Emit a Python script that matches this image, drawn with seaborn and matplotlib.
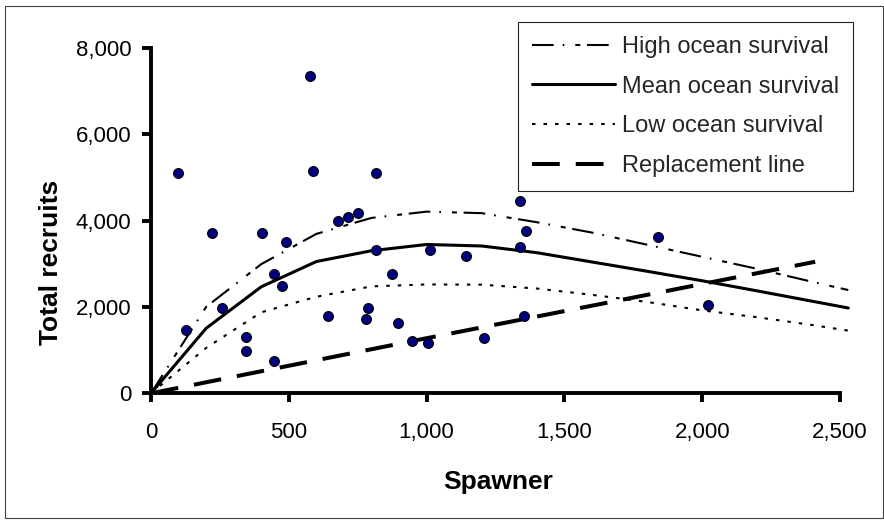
import matplotlib
matplotlib.use("Agg")
import matplotlib.pyplot as plt
import seaborn as sns
from matplotlib.patches import Rectangle

# ---------------- data ----------------
spawner = [97, 128, 221, 258, 344, 344, 403, 445, 445, 475, 491, 578, 588,
           643, 680, 716, 752, 780, 788, 816, 816, 876, 895, 947, 1004, 1012,
           1143, 1208, 1339, 1339, 1353, 1361, 1838, 2020]
recruits = [5110, 1467, 3705, 1974, 1310, 975, 3705, 2769, 741, 2480, 3509,
            7345, 5150, 1778, 3977, 4079, 4173, 1731, 1974, 3322, 5110, 2769,
            1637, 1216, 1170, 3322, 3181, 1272, 4444, 3378, 1794, 3752, 3611,
            2051]

curve_spawner = [0, 200, 400, 600, 800, 1000, 1200, 1400, 1600, 1800, 2000,
                 2200, 2400, 2530]
high_survival = [0, 2000, 2990, 3690, 4060, 4205, 4170, 3960, 3720, 3440,
                 3160, 2880, 2580, 2390]
mean_survival = [0, 1505, 2465, 3050, 3300, 3445, 3410, 3255, 3040, 2825,
                 2605, 2370, 2130, 1975]
low_survival = [0, 1050, 1875, 2235, 2475, 2520, 2515, 2425, 2280, 2115,
                1920, 1760, 1580, 1450]

replacement_spawner = [0, 1000, 2000, 2410]
replacement_recruits = [0, 1275, 2530, 3045]

series_labels = ["High ocean survival", "Mean ocean survival",
                 "Low ocean survival", "Replacement line"]
x_ticks = [0, 500, 1000, 1500, 2000, 2500]
y_ticks = [0, 2000, 4000, 6000, 8000]
x_title = "Spawner"
y_title = "Total recruits"

# ---------------- style ----------------
sns.set_theme(style="white")
plt.rcParams["font.family"] = ["Liberation Sans", "DejaVu Sans"]
plt.rcParams["lines.scale_dashes"] = False

fig = plt.figure(figsize=(8.84, 5.2), dpi=100)
ax = fig.add_axes([151 / 884, 1 - 393.3 / 520, 689 / 884, 345.6 / 520])

line_specs = [
    (high_survival, 1.5, (0, (15.6, 6.5, 1.2, 7.9, 3.6, 4.8))),
    (mean_survival, 2.2, None),
    (low_survival, 1.5, (0, (2.5, 5.8))),
]
handles = []
for vals, lw, dash in line_specs:
    sns.lineplot(x=curve_spawner, y=vals, ax=ax, color="black", linewidth=lw,
                 sort=False, estimator=None, clip_on=False, zorder=3)
    ln = ax.lines[-1]
    if dash is not None:
        ln.set_linestyle(dash)
    handles.append(ln)

sns.lineplot(x=replacement_spawner, y=replacement_recruits, ax=ax,
             color="black", linewidth=2.9, sort=False, estimator=None,
             clip_on=False, zorder=3)
ln = ax.lines[-1]
ln.set_linestyle((0, (20, 11.5)))
handles.append(ln)

sns.scatterplot(x=spawner, y=recruits, ax=ax, color="#000080",
                edgecolor="black", linewidth=0.8, s=50, zorder=5)

ax.set_xlim(0, 2500)
ax.set_ylim(0, 8000)
ax.set_xticks(x_ticks)
ax.set_xticklabels([f"{v:,}" for v in x_ticks])
ax.set_yticks(y_ticks)
ax.set_yticklabels([f"{v:,}" for v in y_ticks])
ax.set_xlabel("")
ax.set_ylabel("")

for side in ["top", "right"]:
    ax.spines[side].set_visible(False)
for side in ["left", "bottom"]:
    ax.spines[side].set_linewidth(2.8)
    ax.spines[side].set_color("black")

ax.tick_params(axis="both", direction="out", length=6.5, width=2.8,
               color="black", labelsize=16, labelcolor="black",
               left=True, bottom=True)
ax.tick_params(axis="x", pad=14.5)
ax.tick_params(axis="y", pad=7.5)

fig.text(50.6 / 884, 1 - 262 / 520, y_title, rotation=90, ha="center",
         va="center", fontsize=19, fontweight="bold", color="black")
fig.text(498 / 884, 1 - 482 / 520, x_title, ha="center", va="center",
         fontsize=19, fontweight="bold", color="black")

leg = ax.legend(handles, series_labels, loc="upper right",
                bbox_to_anchor=(853 / 884, 1 - 21.7 / 520),
                bbox_transform=fig.transFigure, fontsize=17, frameon=True,
                fancybox=False, shadow=False, handlelength=3.5,
                handletextpad=0.3, borderpad=0.6, labelspacing=0.75,
                borderaxespad=0)
leg.get_frame().set_edgecolor("#222222")
leg.get_frame().set_linewidth(0.8)
leg.get_frame().set_facecolor("white")
leg.get_frame().set_alpha(1)

fig.add_artist(Rectangle((5 / 884, 2.5 / 520), 878 / 884, 512 / 520,
                         transform=fig.transFigure, fill=False,
                         edgecolor="#404040", linewidth=0.8))

fig.savefig("out.png", dpi=100)
